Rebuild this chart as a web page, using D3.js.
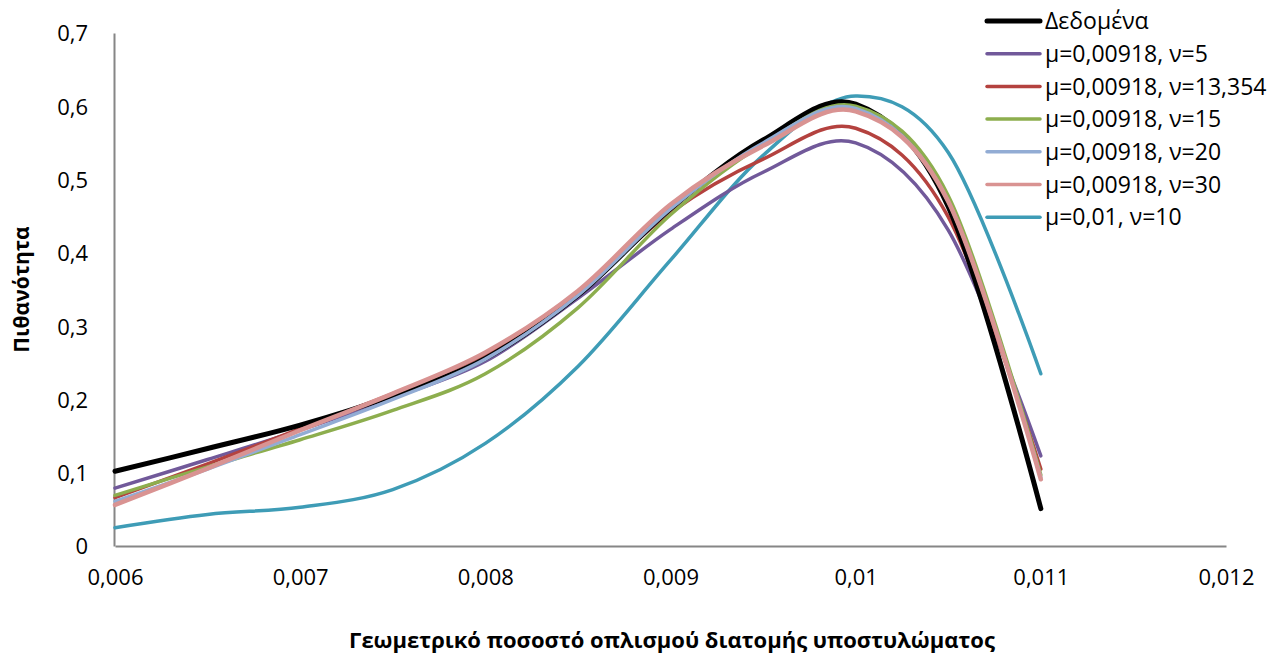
<!DOCTYPE html>
<html>
<head>
<meta charset="utf-8">
<script src="https://cdn.jsdelivr.net/npm/d3@7"></script>
<style>
  html, body { margin: 0; padding: 0; background: #fff; }
  svg { display: block; }
  text { font-family: "Open Sans", "Noto Sans", sans-serif; fill: #000; }
</style>
</head>
<body>
<svg id="chart" width="1286" height="655"></svg>
<script>
// Reinforcement ratio values at which each curve is sampled
const ratios = [0.006, 0.0065, 0.007, 0.0075, 0.008, 0.0085, 0.009, 0.0095, 0.010, 0.0105, 0.011];

// Probability series
const dataObserved = [0.102, 0.133, 0.165, 0.205, 0.256, 0.342, 0.460, 0.554, 0.603, 0.463, 0.051];
const fitNu5       = [0.079, 0.118, 0.158, 0.202, 0.252, 0.338, 0.432, 0.510, 0.550, 0.431, 0.123];
const fitNu13354   = [0.066, 0.112, 0.160, 0.208, 0.262, 0.345, 0.455, 0.528, 0.570, 0.449, 0.105];
const fitNu15      = [0.069, 0.108, 0.145, 0.185, 0.235, 0.325, 0.452, 0.548, 0.600, 0.478, 0.097];
const fitNu20      = [0.061, 0.105, 0.152, 0.200, 0.255, 0.342, 0.460, 0.550, 0.597, 0.470, 0.094];
const fitNu30      = [0.056, 0.106, 0.158, 0.208, 0.264, 0.348, 0.466, 0.546, 0.593, 0.470, 0.091];
const fitMu01Nu10  = [0.025, 0.043, 0.053, 0.077, 0.140, 0.245, 0.390, 0.533, 0.614, 0.537, 0.235];

const seriesNames = [
  "Δεδομένα",
  "μ=0,00918, ν=5",
  "μ=0,00918, ν=13,354",
  "μ=0,00918, ν=15",
  "μ=0,00918, ν=20",
  "μ=0,00918, ν=30",
  "μ=0,01, ν=10"
];
const seriesValues = [dataObserved, fitNu5, fitNu13354, fitNu15, fitNu20, fitNu30, fitMu01Nu10];
const seriesColors = ["#000000", "#71599A", "#B4423F", "#8DAE4E", "#92ACD4", "#D99392", "#3E9CB6"];
const seriesWidths = [5, 3.5, 3.5, 3.5, 3.5, 4.5, 3.5];

const xTicks = [0.006, 0.007, 0.008, 0.009, 0.010, 0.011, 0.012];
const xTickLabels = ["0,006", "0,007", "0,008", "0,009", "0,01", "0,011", "0,012"];
const yTicks = [0, 0.1, 0.2, 0.3, 0.4, 0.5, 0.6, 0.7];
const yTickLabels = ["0", "0,1", "0,2", "0,3", "0,4", "0,5", "0,6", "0,7"];

const xTitle = "Γεωμετρικό ποσοστό οπλισμού διατομής υποστυλώματος";
const yTitle = "Πιθανότητα";

const svg = d3.select("#chart");
const plot = { left: 114, right: 1226, top: 33, bottom: 546 };

const x = d3.scaleLinear().domain([0.006, 0.012]).range([plot.left + 1, plot.right]);
const y = d3.scaleLinear().domain([0, 0.7]).range([plot.bottom, plot.top]);

// Axes: plain grey lines with labels, no tick marks
const axisColor = "#868686";
const xAxis = d3.axisBottom(x).tickValues(xTicks)
  .tickFormat((d, i) => xTickLabels[i]).tickSize(0).tickPadding(23);
const yAxis = d3.axisLeft(y).tickValues(yTicks)
  .tickFormat((d, i) => yTickLabels[i]).tickSize(0).tickPadding(26);

const gx = svg.append("g").attr("transform", `translate(0,${plot.bottom})`).call(xAxis);
const gy = svg.append("g").attr("transform", `translate(${plot.left},0)`).call(yAxis);
[gx, gy].forEach(g => {
  g.select(".domain").attr("stroke", axisColor).attr("stroke-width", 2);
  g.selectAll("text").style("font-size", "22px").attr("fill", "#000")
    .style("font-family", "'Open Sans', 'Noto Sans', sans-serif");
});
gy.selectAll("text").attr("dy", "0.36em");

// Curves
const line = d3.line()
  .x((d, i) => x(ratios[i]))
  .y(d => y(d))
  .curve(d3.curveCatmullRom.alpha(0));

const drawOrder = [6, 1, 2, 0, 3, 4, 5];
const curves = svg.append("g").attr("fill", "none")
  .attr("stroke-linecap", "round").attr("stroke-linejoin", "round");
drawOrder.forEach(k => {
  curves.append("path")
    .attr("d", line(seriesValues[k]))
    .attr("stroke", seriesColors[k])
    .attr("stroke-width", seriesWidths[k]);
});

// Legend
const legend = svg.append("g").attr("transform", "translate(987,21)");
seriesNames.forEach((name, i) => {
  const row = legend.append("g").attr("transform", `translate(0,${i * 32.7})`);
  row.append("line").attr("x1", 0).attr("x2", 53).attr("y1", 0).attr("y2", 0)
    .attr("stroke", seriesColors[i]).attr("stroke-width", i === 0 ? 5 : 3.5)
    .attr("stroke-linecap", "round");
  row.append("text").attr("x", 58).attr("y", 0).attr("dy", "0.36em")
    .style("font-size", "23px").text(name);
});

// Axis titles
svg.append("text")
  .attr("x", (plot.left + plot.right) / 2 + 2).attr("y", 640)
  .attr("text-anchor", "middle").attr("dy", "0.36em")
  .style("font-size", "22px").style("font-weight", "bold")
  .text(xTitle);

svg.append("text")
  .attr("transform", `translate(21,${(plot.top + plot.bottom) / 2}) rotate(-90)`)
  .attr("text-anchor", "middle").attr("dy", "0.36em")
  .style("font-size", "21px").style("font-weight", "bold")
  .text(yTitle);
</script>
</body>
</html>
